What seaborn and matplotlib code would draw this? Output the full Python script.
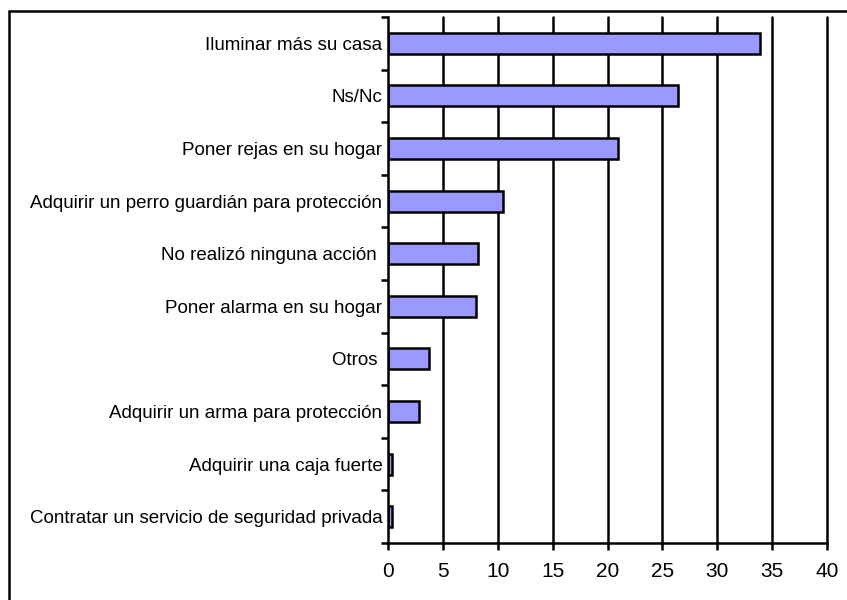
import numpy as np
import pandas as pd
import matplotlib
matplotlib.use("Agg")
import matplotlib.pyplot as plt
import seaborn as sns
from matplotlib.lines import Line2D

acciones = [
    "Iluminar más su casa",
    "Ns/Nc",
    "Poner rejas en su hogar",
    "Adquirir un perro guardián para protección",
    "No realizó ninguna acción ",
    "Poner alarma en su hogar",
    "Otros ",
    "Adquirir un arma para protección",
    "Adquirir una caja fuerte",
    "Contratar un servicio de seguridad privada",
]
porcentajes = [33.9, 26.4, 21.0, 10.5, 8.2, 8.0, 3.7, 2.8, 0.4, 0.4]
x_ticks = [0, 5, 10, 15, 20, 25, 30, 35, 40]

df = pd.DataFrame({"accion": acciones, "pct": porcentajes})

sns.set_style("white")
plt.rcParams["font.family"] = ["Liberation Sans", "DejaVu Sans"]
plt.rcParams["text.color"] = "black"

fig = plt.figure(figsize=(8.47, 6.0), dpi=100)
ax = fig.add_axes([388 / 847, 1 - 543 / 600, (827 - 388) / 847, (543 - 17) / 600])

# vertical grid lines behind the bars
for xv in x_ticks[1:]:
    ax.axvline(xv, color="black", lw=1.8, zorder=0, clip_on=False)

sns.barplot(data=df, x="pct", y="accion", color="#9999FF", saturation=1,
            edgecolor="black", linewidth=1.8, width=0.4, ax=ax, zorder=2)

ax.set_xlim(0, 40)
ax.set_ylim(len(acciones) - 0.5, -0.5)
ax.set_xticks(x_ticks)
ax.set_xlabel("")
ax.set_ylabel("")
ax.tick_params(axis="x", labelsize=15, length=5, width=1.8, direction="out",
               pad=9, colors="black", labelcolor="black", bottom=True)
ax.tick_params(axis="y", which="major", length=0, labelsize=13.5, pad=4,
               labelcolor="black")
ax.set_yticks(np.arange(-0.5, len(acciones), 1.0), minor=True)
ax.tick_params(axis="y", which="minor", length=5, width=1.8, direction="out",
               left=True, colors="black")

for side in ["top", "right"]:
    ax.spines[side].set_visible(False)
for side in ["left", "bottom"]:
    ax.spines[side].set_color("black")
    ax.spines[side].set_linewidth(1.8)

# outer frame of the original picture (left and top edges)
fig.add_artist(Line2D([9 / 847, 9 / 847], [0, 1 - 11 / 600], color="black", lw=1.8,
                      transform=fig.transFigure))
fig.add_artist(Line2D([9 / 847, 1], [1 - 11 / 600, 1 - 11 / 600], color="black", lw=1.8,
                      transform=fig.transFigure))

fig.savefig("out.png", dpi=100)
